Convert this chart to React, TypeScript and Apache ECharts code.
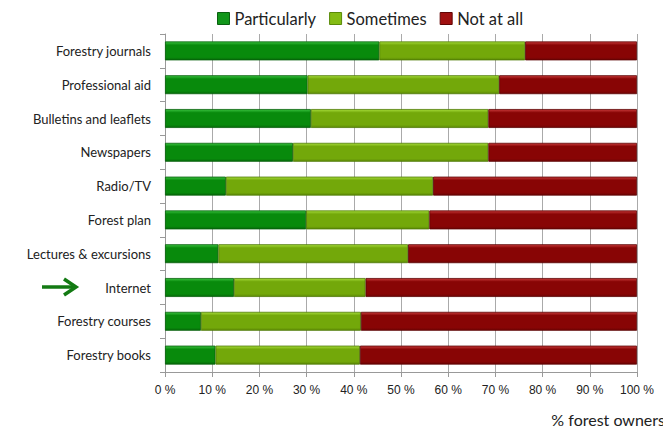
import React, { useEffect, useRef } from "react";
import * as echarts from "echarts";

const categories = [
  "Forestry journals",
  "Professional aid",
  "Bulletins and leaflets",
  "Newspapers",
  "Radio/TV",
  "Forest plan",
  "Lectures & excursions",
  "Internet",
  "Forestry courses",
  "Forestry books",
];
const particularly = [45.4, 30.2, 30.9, 27.1, 12.9, 29.9, 11.3, 14.6, 7.6, 10.7];
const sometimes = [30.9, 40.6, 37.6, 41.4, 43.9, 26.1, 40.2, 27.9, 33.9, 30.6];
const notAtAll = [23.7, 29.2, 31.5, 31.5, 43.2, 44.0, 48.5, 57.5, 58.5, 58.7];
const seriesNames = ["Particularly", "Sometimes", "Not at all"];
const xTicks = [0, 10, 20, 30, 40, 50, 60, 70, 80, 90, 100];
const axisTitle = "% forest owners";

const grad = (top: string, mid: string, bot: string) =>
  new echarts.graphic.LinearGradient(0, 0, 0, 1, [
    { offset: 0, color: top },
    { offset: 0.18, color: mid },
    { offset: 0.85, color: mid },
    { offset: 1, color: bot },
  ]);

export default function App() {
  const ref = useRef<HTMLDivElement>(null);
  useEffect(() => {
    if (!ref.current) return;
    const chart = echarts.init(ref.current, null, { renderer: "svg" });
    const font = "Lato, 'Open Sans', sans-serif";
    const mk = (name: string, data: number[], fill: any, border: string) => ({
      name,
      type: "bar",
      stack: "total",
      barWidth: "56%",
      data,
      itemStyle: { color: fill, borderColor: border, borderWidth: 0.8 },
      emphasis: { disabled: true },
    });
    chart.setOption({
      animation: false,
      legend: {
        top: 5,
        left: 212,
        itemWidth: 12,
        itemHeight: 12,
        itemGap: 13,
        icon: "rect",
        textStyle: { fontFamily: font, fontSize: 16.5, color: "#222" },
        data: [
          { name: seriesNames[0], itemStyle: { color: "#11961a", borderColor: "#0a6010", borderWidth: 1 } },
          { name: seriesNames[1], itemStyle: { color: "#84bc14", borderColor: "#5a8a08", borderWidth: 1 } },
          { name: seriesNames[2], itemStyle: { color: "#a01010", borderColor: "#600505", borderWidth: 1 } },
        ],
      },
      grid: { left: 165, right: 34, top: 34, bottom: 62 },
      xAxis: {
        type: "value",
        min: 0,
        max: 100,
        interval: 10,
        axisLine: { show: true, lineStyle: { color: "#999" } },
        axisTick: { show: true, length: 5, lineStyle: { color: "#999" } },
        axisLabel: {
          formatter: (v: number) => (xTicks.includes(v) ? v + " %" : ""),
          fontFamily: "'Liberation Sans', Arial, sans-serif",
          fontSize: 12,
          color: "#222",
          margin: 12,
        },
        splitLine: { show: true, lineStyle: { color: "#aaa" } },
      },
      yAxis: {
        type: "category",
        inverse: true,
        data: categories,
        axisLine: { show: true, lineStyle: { color: "#999" } },
        axisTick: { show: true, length: 5, lineStyle: { color: "#999" } },
        axisLabel: { fontFamily: font, fontSize: 13, color: "#222", margin: 14 },
        splitLine: { show: false },
      },
      series: [
        mk(seriesNames[0], particularly, grad("#3ac23f", "#088a0c", "#066a09"), "#05600a"),
        mk(seriesNames[1], sometimes, grad("#a6dc3a", "#73a80a", "#5d8a06"), "#4e7a05"),
        mk(seriesNames[2], notAtAll, grad("#c83a3a", "#880505", "#6e0404"), "#5a0303"),
      ],
      graphic: [
        {
          type: "text",
          right: 6,
          top: 411,
          style: { text: axisTitle, fontFamily: font, fontSize: 16, fill: "#222" },
        },
        {
          type: "line",
          shape: { x1: 42, y1: 287, x2: 74, y2: 287 },
          style: { stroke: "#137a13", lineWidth: 3.5 },
        },
        {
          type: "polyline",
          shape: { points: [[64, 279], [76, 287], [64, 295]] },
          style: { stroke: "#137a13", lineWidth: 3.5, fill: "none" },
        },
      ],
    });
    return () => chart.dispose();
  }, []);
  return <div ref={ref} style={{ width: 671, height: 434, margin: -8 }} />;
}
